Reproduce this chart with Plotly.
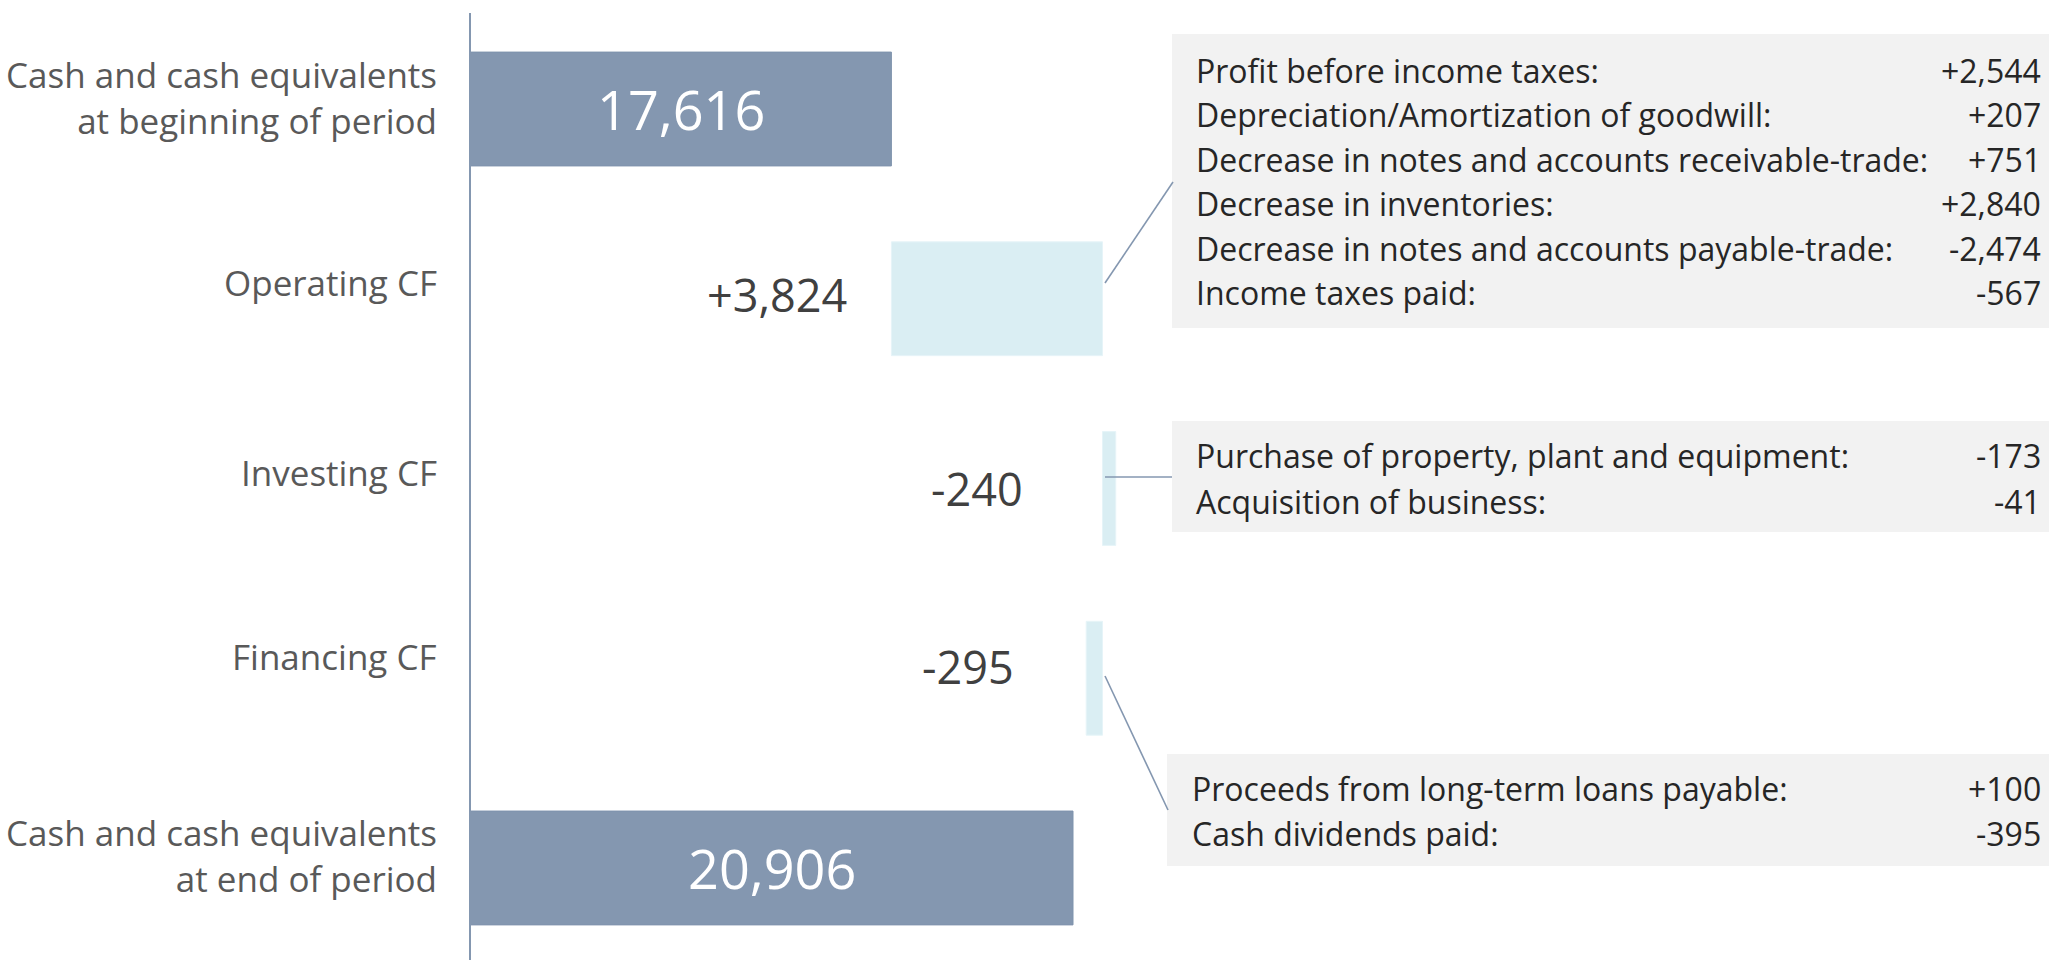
import plotly.graph_objects as go

# ---------------- data ----------------
categories = [
    "Cash and cash equivalents<br>at beginning of period",
    "Operating CF",
    "Investing CF",
    "Financing CF",
    "Cash and cash equivalents<br>at end of period",
]
begin_cash = 17616
operating_cf = 3824
investing_cf = -240
financing_cf = -295
end_cash = 20906
value_labels = ["17,616", "+3,824", "-240", "-295", "20,906"]

operating_items = [
    "Profit before income taxes:",
    "Depreciation/Amortization of goodwill:",
    "Decrease in notes and accounts receivable-trade:",
    "Decrease in inventories:",
    "Decrease in notes and accounts payable-trade:",
    "Income taxes paid:",
]
operating_values = ["+2,544", "+207", "+751", "+2,840", "-2,474", "-567"]

investing_items = ["Purchase of property, plant and equipment:", "Acquisition of business:"]
investing_values = ["-173", "-41"]

financing_items = ["Proceeds from long-term loans payable:", "Cash dividends paid:"]
financing_values = ["+100", "-395"]

# ---------------- geometry / style ----------------
W, H = 2049, 960
ML, MT = 471, 13
PW, PH = W - ML, H - MT
AXIS_MIN = 10000
PX_PER_UNIT = 0.0552
AXIS_MAX = AXIS_MIN + PW / PX_PER_UNIT

DARK_BAR = "#8497B0"
LIGHT_BAR = "#DAEEF3"
LINE_C = "#8497B0"
BOX_C = "#F2F2F2"
FONT = "Open Sans"


def px(x):
    return (x - ML) / PW


def py(y):
    return (H - y) / PH


after_op = begin_cash + operating_cf
bases = [0, begin_cash, after_op, after_op + financing_cf, 0]
lengths = [begin_cash, operating_cf, abs(investing_cf), abs(financing_cf), end_cash]
colors = [DARK_BAR, LIGHT_BAR, LIGHT_BAR, LIGHT_BAR, DARK_BAR]
edge_colors = ["#7f93ad", "#E6F4F8", "#E6F4F8", "#E6F4F8", "#7f93ad"]
ypos = list(range(len(categories)))

fig = go.Figure()
fig.add_trace(go.Bar(
    y=ypos, x=lengths, base=bases, orientation="h", width=0.6,
    marker=dict(color=colors, line=dict(width=1, color=edge_colors)),
    hoverinfo="skip", showlegend=False,
))

annotations = []
# category labels
label_yshift = [12, 16, 16, 22, 12]
for i, c in enumerate(categories):
    annotations.append(dict(
        xref="paper", yref="y", x=0, y=i, xanchor="right", yanchor="middle",
        xshift=-32, yshift=label_yshift[i], text=c, showarrow=False, align="right",
        font=dict(family=FONT, size=35, color="#595959"),
    ))

# value labels: totals inside bars
for i in (0, 4):
    annotations.append(dict(
        xref="x", yref="y", x=(AXIS_MIN + lengths[i]) / 2, y=i, xanchor="center", yanchor="middle",
        text=value_labels[i], showarrow=False,
        font=dict(family=FONT, size=54, color="white"),
    ))

# value labels: flows left of bars
flow_xshift = {1: -42, 2: -77, 3: -70}
flow_yshift = {1: 4, 2: 0, 3: 12}
for i in (1, 2, 3):
    annotations.append(dict(
        xref="x", yref="y", x=bases[i], y=i, xanchor="right", yanchor="middle",
        xshift=flow_xshift[i], yshift=flow_yshift[i], text=value_labels[i], showarrow=False,
        font=dict(family=FONT, size=45, color="#404040"),
    ))

shapes = []


def add_box(x0, y0, y1, text_x, first_center, step, items, values):
    shapes.append(dict(type="rect", xref="paper", yref="paper",
                       x0=px(x0), x1=px(W), y0=py(y1), y1=py(y0),
                       fillcolor=BOX_C, line=dict(width=0), layer="below"))
    for k, (it, v) in enumerate(zip(items, values)):
        yc = first_center + k * step
        annotations.append(dict(xref="paper", yref="paper", x=px(text_x), y=py(yc),
                                xanchor="left", yanchor="middle", text=it, showarrow=False,
                                font=dict(family=FONT, size=32, color="#262626")))
        annotations.append(dict(xref="paper", yref="paper", x=px(2043), y=py(yc),
                                xanchor="right", yanchor="middle", text=v, showarrow=False,
                                font=dict(family=FONT, size=32, color="#262626")))


add_box(1172, 34, 328, 1194, 70, 44.6, operating_items, operating_values)
add_box(1172, 421, 532, 1194, 456, 45, investing_items, investing_values)
add_box(1167, 754, 866, 1190, 788, 45, financing_items, financing_values)

# connector lines
for (x0, y0, x1, y1) in [(1105, 283, 1173, 182), (1105, 477, 1172, 477), (1105, 676, 1168, 810)]:
    shapes.append(dict(type="line", xref="paper", yref="paper",
                       x0=px(x0), y0=py(y0), x1=px(x1), y1=py(y1),
                       line=dict(color=LINE_C, width=1.6)))

fig.update_layout(
    width=W, height=H,
    margin=dict(l=ML, r=0, t=MT, b=0, pad=0),
    paper_bgcolor="white", plot_bgcolor="white",
    xaxis=dict(range=[AXIS_MIN, AXIS_MAX], visible=False, fixedrange=True),
    yaxis=dict(range=[4.485, -0.506], showticklabels=False, showgrid=False, zeroline=False,
               showline=True, linecolor=LINE_C, linewidth=2, ticks="", fixedrange=True),
    shapes=shapes, annotations=annotations,
    bargap=0.4, showlegend=False,
)

fig.write_html(
    "out.html",
    config={"displayModeBar": False},
    post_script="document.body.style.margin='0';document.body.style.overflow='hidden';",
)
